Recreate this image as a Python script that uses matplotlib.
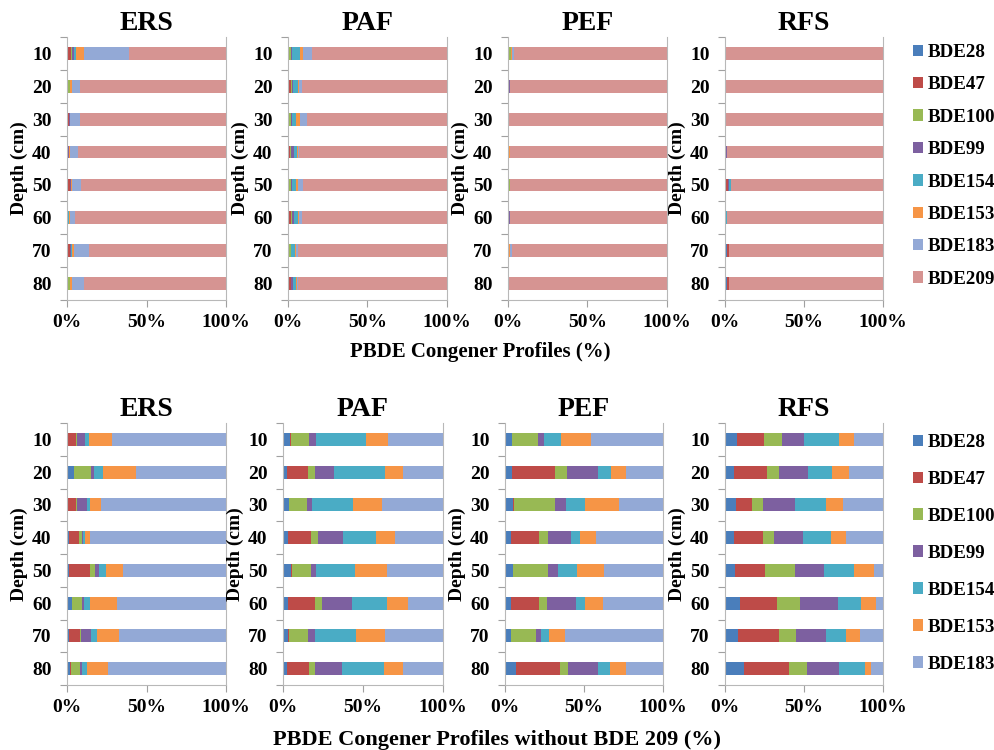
import numpy as np
import matplotlib.pyplot as plt
from matplotlib.patches import Patch

plt.rcParams["font.family"] = "Liberation Serif"
plt.rcParams["font.weight"] = "bold"

# =============================================================================
# data (% of total per depth)
# =============================================================================

depths = ["10", "20", "30", "40", "50", "60", "70", "80"]
sites = ["ERS", "PAF", "PEF", "RFS"]

congeners_all = ["BDE28", "BDE47", "BDE100", "BDE99", "BDE154", "BDE153", "BDE183", "BDE209"]
congeners_no209 = congeners_all[:-1]

# full profiles, rows = depth, cols = congener (BDE28 ... BDE209)
ers_all = [
    [0.3, 2.2, 0.5, 1.5, 1.2, 5.0, 28.4, 60.9],
    [0.2, 0.3, 1.2, 0.2, 0.3, 0.8, 5.0, 92.0],
    [0.2, 1.0, 0.2, 0.2, 0.2, 0.2, 6.0, 92.0],
    [0.2, 0.5, 0.2, 0.2, 0.2, 0.3, 5.4, 93.0],
    [0.2, 1.5, 0.5, 0.2, 0.3, 0.3, 6.0, 91.0],
    [0.2, 0.2, 0.3, 0.1, 0.2, 0.8, 3.2, 95.0],
    [0.3, 1.5, 0.3, 0.5, 0.4, 1.5, 9.5, 86.0],
    [0.3, 0.2, 1.2, 0.2, 0.3, 0.8, 8.0, 89.0],
]
paf_all = [
    [0.5, 0.3, 1.2, 0.5, 5.0, 2.0, 5.5, 85.0],
    [0.5, 1.5, 0.5, 0.5, 3.0, 1.0, 1.5, 91.5],
    [0.5, 0.3, 1.2, 0.3, 3.0, 2.2, 4.5, 88.0],
    [0.5, 1.0, 0.5, 1.5, 2.0, 0.5, 1.0, 93.0],
    [0.5, 0.3, 1.0, 0.5, 2.5, 1.5, 3.2, 90.5],
    [0.5, 1.5, 0.5, 1.5, 2.0, 1.0, 1.5, 91.5],
    [0.5, 0.3, 1.0, 0.3, 2.0, 1.0, 1.4, 93.5],
    [0.5, 1.2, 0.5, 1.0, 1.8, 0.5, 1.0, 93.5],
]
pef_all = [
    [0.3, 0.2, 1.2, 0.2, 0.3, 0.3, 1.0, 96.5],
    [0.5, 0.2, 0.1, 0.5, 0.1, 0.1, 0.0, 98.5],
    [0.1, 0.0, 0.0, 0.0, 0.0, 0.2, 0.0, 99.7],
    [0.2, 0.0, 0.5, 0.0, 0.0, 0.5, 0.0, 98.8],
    [0.2, 0.0, 1.0, 0.0, 0.3, 0.0, 0.0, 98.5],
    [0.3, 0.0, 0.0, 0.7, 0.0, 0.0, 0.0, 99.0],
    [0.0, 0.0, 0.5, 0.0, 0.0, 1.0, 1.0, 97.5],
    [0.2, 0.0, 0.0, 0.3, 0.0, 0.0, 0.0, 99.5],
]
rfs_all = [
    [0.0, 0.0, 0.0, 0.0, 0.0, 0.0, 0.0, 100.0],
    [0.0, 0.0, 0.0, 0.0, 0.0, 0.0, 0.0, 100.0],
    [0.0, 0.0, 0.0, 0.0, 0.0, 0.3, 0.0, 99.7],
    [0.5, 0.0, 0.0, 0.5, 0.0, 0.0, 0.0, 99.0],
    [0.2, 1.5, 0.5, 0.5, 1.0, 0.3, 0.0, 96.0],
    [0.0, 0.0, 0.5, 0.0, 0.5, 0.0, 0.0, 99.0],
    [1.0, 1.5, 0.0, 0.0, 0.0, 0.0, 0.0, 97.5],
    [1.0, 1.5, 0.0, 0.0, 0.0, 0.0, 0.0, 97.5],
]

# profiles without BDE209, cols = BDE28 ... BDE183
ers_no209 = [
    [0.6, 4.9, 0.8, 4.8, 2.8, 14.3, 71.8],
    [4.4, 0.3, 10.6, 1.7, 5.7, 20.6, 56.7],
    [0.4, 5.5, 0.6, 6.3, 1.9, 6.9, 78.4],
    [1.0, 6.6, 2.1, 0.4, 1.2, 3.0, 85.7],
    [1.3, 13.4, 3.2, 2.3, 4.6, 10.5, 64.7],
    [2.9, 0.5, 6.3, 1.0, 3.8, 17.0, 68.5],
    [1.3, 6.7, 1.0, 5.9, 3.8, 13.9, 67.4],
    [2.1, 0.2, 5.7, 1.2, 3.4, 13.0, 74.4],
]
paf_no209 = [
    [4.6, 0.3, 11.4, 4.6, 31.0, 14.0, 34.1],
    [2.5, 13.2, 4.2, 11.9, 32.0, 11.5, 24.7],
    [3.8, 0.2, 11.3, 3.1, 25.5, 17.8, 38.3],
    [3.1, 14.7, 4.2, 15.2, 21.0, 11.9, 29.9],
    [5.2, 0.2, 12.0, 3.5, 24.1, 19.9, 35.1],
    [3.1, 16.8, 4.2, 18.9, 22.3, 12.7, 22.0],
    [3.1, 0.7, 11.9, 4.2, 25.5, 18.4, 36.2],
    [2.5, 13.8, 3.6, 16.7, 26.8, 11.9, 24.7],
]
pef_no209 = [
    [4.4, 0.2, 16.0, 4.0, 10.6, 19.5, 45.3],
    [4.4, 27.2, 7.8, 19.5, 8.5, 9.4, 23.2],
    [5.3, 0.2, 26.1, 6.7, 12.2, 21.5, 28.0],
    [3.8, 17.9, 5.7, 14.3, 5.7, 10.5, 42.1],
    [4.8, 0.4, 22.2, 5.9, 12.4, 17.0, 37.3],
    [3.6, 18.1, 5.0, 18.1, 5.9, 11.4, 37.9],
    [3.8, 0.2, 15.4, 3.1, 5.5, 9.9, 62.1],
    [6.9, 27.8, 5.3, 18.9, 7.4, 10.1, 23.6],
]
rfs_no209 = [
    [7.8, 16.8, 11.2, 14.3, 21.9, 9.5, 18.5],
    [5.9, 20.4, 8.0, 18.3, 15.4, 10.5, 21.5],
    [6.9, 9.9, 7.0, 20.4, 19.6, 11.1, 25.1],
    [5.7, 18.5, 6.7, 18.6, 17.4, 9.9, 23.2],
    [6.3, 19.0, 18.9, 18.3, 19.0, 12.6, 5.9],
    [9.7, 23.4, 14.3, 24.2, 14.7, 9.5, 4.2],
    [8.4, 25.9, 10.5, 19.0, 12.6, 8.9, 14.7],
    [12.0, 28.4, 11.8, 19.8, 16.4, 3.8, 7.8],
]

colors = ["#4A7EBB", "#BE4B48", "#98B954", "#7D60A0", "#4AACC5", "#F69546", "#93A9D6", "#D69492"]

# =============================================================================
# plot
# =============================================================================

fig = plt.figure(figsize=(9.95, 7.5), dpi=100)

W, H = 995.0, 750.0
TICK_FS = 14


def px_axes(left, right, top, bottom):
    return fig.add_axes([left / W, 1 - bottom / H, (right - left) / W, (bottom - top) / H])


def stacked_panel(ax, data, title):
    data = np.array(data, dtype=float)
    data = data / data.sum(axis=1, keepdims=True)
    y = np.arange(len(depths))
    left = np.zeros(len(depths))
    for j in range(data.shape[1]):
        ax.barh(y, data[:, j], left=left, height=0.39, color=colors[j], linewidth=0)
        left += data[:, j]

    ax.set_xlim(0, 1)
    ax.set_ylim(len(depths) - 0.5, -0.5)
    ax.set_title(title, fontsize=20, fontweight="bold", pad=5)

    ax.set_xticks([0, 0.5, 1])
    ax.set_xticklabels(["0%", "50%", "100%"])
    ax.set_yticks(y)
    ax.set_yticklabels(depths)
    ax.set_yticks(np.arange(len(depths) + 1) - 0.5, minor=True)
    ax.tick_params(axis="y", which="major", length=0, pad=11, labelsize=TICK_FS)
    ax.tick_params(axis="y", which="minor", length=5, color="#A0A0A0", width=0.8)
    ax.tick_params(axis="x", length=5, color="#A0A0A0", width=0.8, pad=5, labelsize=TICK_FS)
    ax.set_ylabel("Depth (cm)", fontsize=14, fontweight="bold", labelpad=3)

    for side in ["left", "bottom", "right"]:
        ax.spines[side].set_color("#B8B8B8")
        ax.spines[side].set_linewidth(0.8)
    ax.spines["top"].set_visible(False)


legend_kw = dict(
    loc="upper left",
    frameon=False,
    fontsize=13.7,
    handlelength=0.55,
    handleheight=0.55,
    handletextpad=0.2,
    borderaxespad=0,
    borderpad=0,
)

# top row: full congener profiles
top_data = [ers_all, paf_all, pef_all, rfs_all]
top_x = [(67, 226), (288, 447), (508, 667), (725, 883)]
for (l, r), d, s in zip(top_x, top_data, sites):
    ax = px_axes(l, r, 37, 300)
    stacked_panel(ax, d, s)

handles = [Patch(facecolor=colors[i], label=c) for i, c in enumerate(congeners_all)]
fig.legend(handles=handles, bbox_to_anchor=(913 / W, 1 - 44 / H), labelspacing=0.81, **legend_kw)
fig.text(480 / W, 1 - 352 / H, "PBDE Congener Profiles (%)", ha="center", va="center",
         fontsize=15, fontweight="bold")

# bottom row: profiles without BDE209
bot_data = [ers_no209, paf_no209, pef_no209, rfs_no209]
bot_x = [(67, 226), (283, 443), (505, 663), (725, 883)]
for (l, r), d, s in zip(bot_x, bot_data, sites):
    ax = px_axes(l, r, 423, 685)
    stacked_panel(ax, d, s)

handles = [Patch(facecolor=colors[i], label=c) for i, c in enumerate(congeners_no209)]
fig.legend(handles=handles, bbox_to_anchor=(913 / W, 1 - 434 / H), labelspacing=1.05, **legend_kw)
fig.text(497 / W, 1 - 740 / H, "PBDE Congener Profiles without BDE 209 (%)", ha="center",
         va="center", fontsize=16, fontweight="bold")

plt.savefig("out.png", dpi=100)
